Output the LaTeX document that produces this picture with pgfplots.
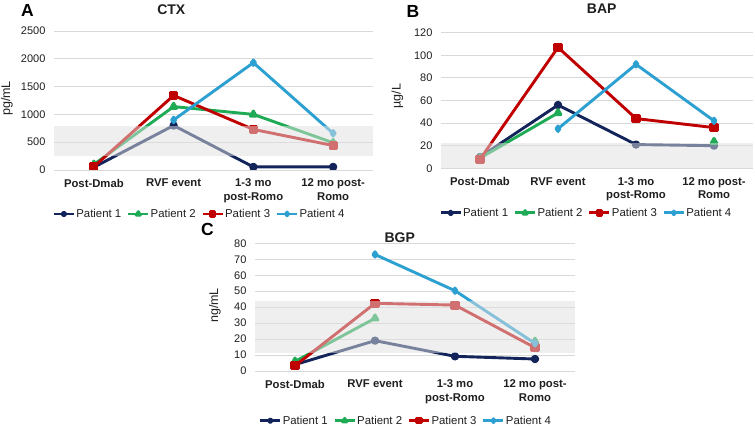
\documentclass[border=0pt]{standalone}
\usepackage{fontspec}
\setmainfont{Liberation Sans}
\usepackage{pgfplots}
\usepackage{pgfplotstable}
\pgfplotsset{compat=1.18}

\definecolor{pone}{HTML}{13245A}
\definecolor{ptwo}{HTML}{1FAA55}
\definecolor{pthree}{HTML}{C00000}
\definecolor{pfour}{HTML}{2DA0D2}
\definecolor{gridc}{HTML}{D9D9D9}
\definecolor{bandc}{HTML}{E0E0E0}
\definecolor{txt}{HTML}{1F1F1F}

% columns: time point index, then one column per patient
\pgfplotstableread{
x   p1   p2    p3    p4
0   50   100   60    nan
1   800  1140  1340  900
2   55   1000  730   1930
3   55   490   440   660
}\ctxdata

\pgfplotstableread{
x   p1   p2    p3    p4
0   10   9     8     nan
1   56   49    107   35
2   21   nan   44    92
3   20   23.5  36    42
}\bapdata

\pgfplotstableread{
x   p1   p2    p3    p4
0   4    6     3.3   nan
1   19   33    42.4  73
2   9.2  nan   41.3  50.3
3   7.5  18.5  14.6  17.3
}\bgpdata

% reference ranges (shaded bands), as closed outlines
\pgfplotstableread{
x     y
-0.5  260
3.5   260
3.5   790
-0.5  790
}\ctxband
\pgfplotstableread{
x     y
-0.5  0
3.5   0
3.5   22
-0.5  22
}\bapband
\pgfplotstableread{
x     y
-0.5  11
3.5   11
3.5   44
-0.5  44
}\bgpband

\pgfplotsset{
  panel/.style={
    scale only axis,
    clip marker paths=true,
    xmin=-0.5, xmax=3.5,
    xtick={0,1,2,3},
    xticklabels={Post-Dmab, RVF event, {1-3 mo\\post-Romo}, {12 mo post-\\Romo}},
    x tick label style={font=\fontsize{11.3}{13.5}\selectfont\bfseries, align=center, text=txt, yshift=-5.5pt},
    y tick label style={font=\fontsize{11}{13}\selectfont, text=txt, xshift=-5pt},
    /pgf/number format/assume math mode=true,
    /pgf/number format/1000 sep={},
    axis line style={draw=none},
    tick style={draw=none},
    ymajorgrids,
    grid style={gridc, line width=0.9pt},
    unbounded coords=jump,
    legend columns=4,
    legend style={draw=none, fill=none, font=\fontsize{11.4}{13}\selectfont, text=txt,
      anchor=center, inner xsep=0pt,
      nodes={inner sep=1pt},
      /tikz/every even column/.append style={column sep=4.5pt}},
    legend cell align=left,
    legend image code/.code={\draw[mark repeat=2,mark phase=2,##1,every mark/.append style={scale=0.7}] plot coordinates {(0pt,0pt) (10pt,0pt) (20pt,0pt)};},
  },
  sone/.style={color=pone, line width=2.9pt, line join=round, mark=*, mark size=2.7pt, mark options={solid}},
  stwo/.style={color=ptwo, line width=2.9pt, line join=round, mark=triangle*, mark size=3.4pt, mark options={solid}},
  sthree/.style={color=pthree, line width=2.9pt, line join=round, mark=square*, mark size=3.1pt, mark options={solid}},
  sfour/.style={color=pfour, line width=2.9pt, line join=round, mark=diamond*, mark size=2.7pt, mark options={solid}},
  band/.style={draw=none, fill=bandc, fill opacity=0.5, mark=none, forget plot},
}

\begin{document}
\begin{tikzpicture}
\path[use as bounding box] (0pt,0pt) rectangle (755pt,427pt);

% ---- A: CTX ----
\begin{axis}[panel, at={(54pt,257pt)}, anchor=south west,
  width=319pt, height=139pt, ymin=0, ymax=2500, ytick={0,500,...,2500},
  legend style={at={(0.4545,-0.3165)}}]
\addplot[sone] table[x=x, y=p1] {\ctxdata};
\addplot[stwo] table[x=x, y=p2] {\ctxdata};
\addplot[sthree] table[x=x, y=p3] {\ctxdata};
\addplot[sfour] table[x=x, y=p4] {\ctxdata};
\legend{Patient 1, Patient 2, Patient 3, Patient 4}
\addplot[band] table[x=x, y=y] {\ctxband} -- cycle;
\end{axis}

% ---- B: BAP ----
\begin{axis}[panel, at={(441pt,258.7pt)}, anchor=south west,
  width=312pt, height=135.6pt, ymin=0, ymax=120, ytick={0,20,...,120},
  legend style={at={(0.464,-0.329)}}]
\addplot[sone] table[x=x, y=p1] {\bapdata};
\addplot[stwo] table[x=x, y=p2] {\bapdata};
\addplot[sthree] table[x=x, y=p3] {\bapdata};
\addplot[sfour] table[x=x, y=p4] {\bapdata};
\legend{Patient 1, Patient 2, Patient 3, Patient 4}
\addplot[band] table[x=x, y=y] {\bapband} -- cycle;
\end{axis}

% ---- C: BGP ----
\begin{axis}[panel, at={(255pt,56pt)}, anchor=south west,
  width=320pt, height=127.7pt, ymin=0, ymax=80, ytick={0,10,...,80},
  legend style={at={(0.470,-0.389)}}]
\addplot[sone] table[x=x, y=p1] {\bgpdata};
\addplot[stwo] table[x=x, y=p2] {\bgpdata};
\addplot[sthree] table[x=x, y=p3] {\bgpdata};
\addplot[sfour] table[x=x, y=p4] {\bgpdata};
\legend{Patient 1, Patient 2, Patient 3, Patient 4}
\addplot[band] table[x=x, y=y] {\bgpband} -- cycle;
\end{axis}

% panel letters, titles and units
\node[font=\fontsize{17.5}{20}\selectfont\bfseries] at (27.5pt,416.5pt) {A};
\node[font=\fontsize{17.5}{20}\selectfont\bfseries] at (413pt,416pt) {B};
\node[font=\fontsize{17.5}{20}\selectfont\bfseries] at (207.5pt,197.5pt) {C};
\node[font=\fontsize{14}{16}\selectfont\bfseries, text=txt] at (171.3pt,417.8pt) {CTX};
\node[font=\fontsize{14}{16}\selectfont\bfseries, text=txt] at (601.7pt,418pt) {BAP};
\node[font=\fontsize{14}{16}\selectfont\bfseries, text=txt] at (399.8pt,189.5pt) {BGP};
\node[font=\fontsize{12.5}{14}\selectfont, text=txt, rotate=90] at (7pt,328.5pt) {pg/mL};
\node[font=\fontsize{12.5}{14}\selectfont, text=txt, rotate=90] at (397.5pt,331pt) {µg/L};
\node[font=\fontsize{12.5}{14}\selectfont, text=txt, rotate=90] at (215pt,121.5pt) {ng/mL};
\end{tikzpicture}
\end{document}
